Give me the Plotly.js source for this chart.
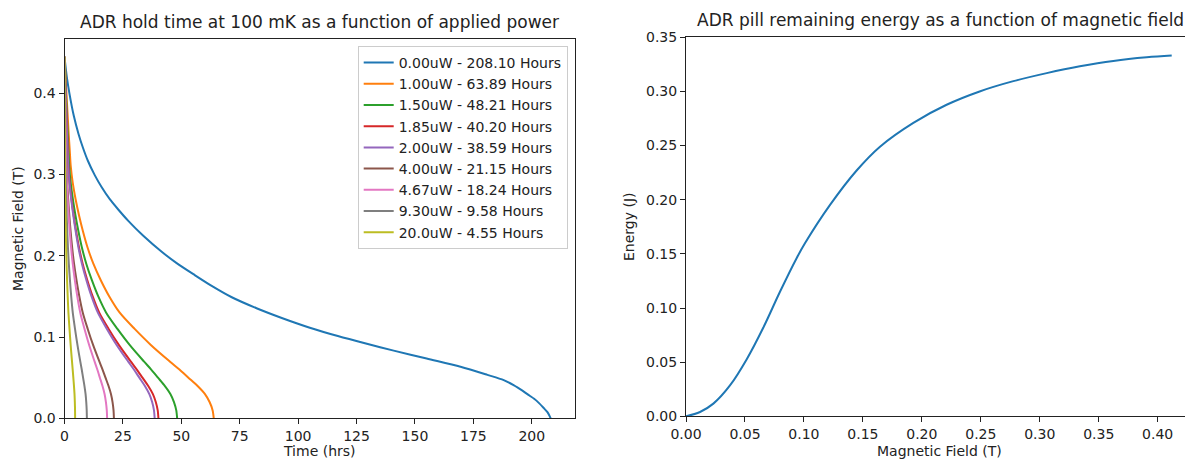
<!DOCTYPE html>
<html>
<head>
<meta charset="utf-8">
<script src="https://cdn.plot.ly/plotly-3.0.1.min.js"></script>
<style>html,body{margin:0;padding:0;background:#fff;}#chart{width:1185px;height:459px;}</style>
</head>
<body>
<div id="chart"></div>
<script>
// ---- Left chart data: magnetic field (T) vs time (hrs) ----
const seriesNames = [
  "0.00uW - 208.10 Hours", "1.00uW - 63.89 Hours", "1.50uW - 48.21 Hours",
  "1.85uW - 40.20 Hours", "2.00uW - 38.59 Hours", "4.00uW - 21.15 Hours",
  "4.67uW - 18.24 Hours", "9.30uW - 9.58 Hours", "20.0uW - 4.55 Hours"
];
const seriesColors = ["#1f77b4","#ff7f0e","#2ca02c","#d62728","#9467bd","#8c564b","#e377c2","#7f7f7f","#bcbd22"];

const t0uW = [0, 1, 2.1, 4, 6, 7.9, 10, 13, 16, 19.3, 23, 27.3, 33.6, 41.6, 48, 55.9, 63, 71.6, 82.2, 93, 105, 117, 129, 140.9, 155, 169.5, 181, 188, 192.4, 196, 199, 201, 203, 205, 206.7, 207.6, 208.1];
const b0uW = [0.445, 0.42, 0.40, 0.372, 0.350, 0.333, 0.317, 0.299, 0.284, 0.270, 0.257, 0.243, 0.225, 0.205, 0.191, 0.176, 0.163, 0.149, 0.1355, 0.1235, 0.1115, 0.1012, 0.0920, 0.0833, 0.0735, 0.0635, 0.0535, 0.047, 0.0406, 0.034, 0.028, 0.024, 0.019, 0.013, 0.0075, 0.003, 0];

// field levels shared by the powered curves
const fieldLevels = [0.445, 0.43, 0.41, 0.39, 0.37, 0.35, 0.33, 0.31, 0.29, 0.27, 0.25, 0.23, 0.21, 0.19, 0.17, 0.15, 0.13, 0.11, 0.09, 0.07, 0.06, 0.05, 0.04, 0.03, 0.02, 0.01, 0];
const t1uW   = [0, 0.26, 0.64, 1.02, 1.41, 1.79, 2.24, 2.68, 3.51, 4.73, 6.20, 7.92, 9.90, 12.39, 15.53, 19.17, 23.64, 30.03, 37.06, 45.04, 49.20, 53.03, 56.86, 60.06, 62.10, 63.38, 63.89];
const t1p5uW = [0, 0.19, 0.48, 0.77, 1.06, 1.35, 1.69, 2.02, 2.65, 3.57, 4.68, 5.98, 7.47, 9.35, 11.72, 14.46, 17.84, 22.66, 27.96, 33.99, 37.12, 40.01, 42.91, 45.32, 46.86, 47.82, 48.21];
const t1p85uW= [0, 0.16, 0.40, 0.64, 0.88, 1.13, 1.41, 1.69, 2.21, 2.97, 3.90, 4.98, 6.23, 7.80, 9.77, 12.06, 14.87, 18.89, 23.32, 28.34, 30.95, 33.37, 35.78, 37.79, 39.07, 39.88, 40.20];
const t2uW   = [0, 0.15, 0.39, 0.62, 0.85, 1.08, 1.35, 1.62, 2.12, 2.86, 3.74, 4.79, 5.98, 7.49, 9.38, 11.58, 14.28, 18.14, 22.38, 27.21, 29.71, 32.03, 34.35, 36.27, 37.51, 38.28, 38.59];
const t4uW   = [0, 0.08, 0.21, 0.34, 0.47, 0.59, 0.74, 0.89, 1.16, 1.57, 2.05, 2.62, 3.28, 4.10, 5.14, 6.35, 7.83, 9.94, 12.27, 14.91, 16.29, 17.55, 18.82, 19.88, 20.56, 20.98, 21.15];
const t4p67uW= [0, 0.07, 0.18, 0.29, 0.40, 0.51, 0.64, 0.77, 1.00, 1.35, 1.77, 2.26, 2.83, 3.54, 4.43, 5.47, 6.75, 8.57, 10.58, 12.86, 14.04, 15.14, 16.23, 17.15, 17.73, 18.09, 18.24];
const t9p3uW = [0, 0.04, 0.10, 0.15, 0.21, 0.27, 0.34, 0.40, 0.53, 0.71, 0.93, 1.19, 1.48, 1.86, 2.33, 2.87, 3.54, 4.50, 5.56, 6.75, 7.38, 7.95, 8.53, 9.01, 9.31, 9.50, 9.58];
const t20uW  = [0, 0.02, 0.05, 0.07, 0.10, 0.13, 0.16, 0.19, 0.25, 0.34, 0.44, 0.56, 0.71, 0.88, 1.11, 1.37, 1.68, 2.14, 2.64, 3.21, 3.50, 3.78, 4.05, 4.28, 4.42, 4.51, 4.55];

// ---- Right chart data: energy (J) vs magnetic field (T) ----
const pillField  = [0, 0.0119, 0.0232, 0.0373, 0.0514, 0.0656, 0.0797, 0.0938, 0.101, 0.122, 0.1447, 0.1645, 0.1928, 0.221, 0.249, 0.2776, 0.3059, 0.334, 0.3624, 0.3907, 0.4119];
const pillEnergy = [0, 0.004, 0.0117, 0.0285, 0.0525, 0.082, 0.115, 0.146, 0.160, 0.195, 0.227, 0.249, 0.271, 0.2877, 0.300, 0.3095, 0.3169, 0.3232, 0.3282, 0.3315, 0.3331];

const W = 1185, H = 459;
const px = v => v / W, py = v => (H - v) / H;

const xs = [t0uW, t1uW, t1p5uW, t1p85uW, t2uW, t4uW, t4p67uW, t9p3uW, t20uW];
const ys = [b0uW, fieldLevels, fieldLevels, fieldLevels, fieldLevels, fieldLevels, fieldLevels, fieldLevels, fieldLevels];

const traces = xs.map((x, i) => ({
  type: 'scatter', mode: 'lines', x: x, y: ys[i], name: seriesNames[i],
  line: {color: seriesColors[i], width: 2, shape: 'spline', smoothing: 0.8},
  xaxis: 'x', yaxis: 'y', showlegend: true
}));
traces.push({
  type: 'scatter', mode: 'lines', x: pillField, y: pillEnergy, name: 'energy',
  line: {color: '#1f77b4', width: 2, shape: 'spline', smoothing: 1},
  xaxis: 'x2', yaxis: 'y2', showlegend: false
});

const font = {family: 'DejaVu Sans', size: 14, color: '#222'};
const titleFont = {family: 'DejaVu Sans', size: 17, color: '#222'};
const axBase = {
  showgrid: false, zeroline: false, showline: true, linecolor: '#222', linewidth: 1,
  ticks: 'outside', ticklen: 5, tickwidth: 1, tickcolor: '#222',
  tickfont: font, fixedrange: true
};

const layout = {
  width: W, height: H,
  margin: {l: 0, r: 0, t: 0, b: 0},
  paper_bgcolor: '#fff', plot_bgcolor: '#fff',
  font: font,
  showlegend: true,
  xaxis: Object.assign({}, axBase, {domain: [px(64.5), px(575)], range: [0, 218.5], tickvals: [0,25,50,75,100,125,150,175,200], mirror: true, anchor: 'y'}),
  yaxis: Object.assign({}, axBase, {domain: [py(418.3), py(39.3)], range: [0, 0.4665], tickvals: [0,0.1,0.2,0.3,0.4], tickformat: '.1f', mirror: true, anchor: 'x'}),
  xaxis2: Object.assign({}, axBase, {domain: [px(686), 1], range: [0, 0.42317], tickvals: [0,0.05,0.1,0.15,0.2,0.25,0.3,0.35,0.4], tickformat: '.2f', mirror: true, anchor: 'y2'}),
  yaxis2: Object.assign({}, axBase, {domain: [py(416.3), py(37.3)], range: [0, 0.35], tickvals: [0,0.05,0.1,0.15,0.2,0.25,0.3,0.35], tickformat: '.2f', mirror: false, anchor: 'x2'}),
  legend: {
    x: px(567.7), xanchor: 'right', y: py(46), yanchor: 'top',
    bgcolor: 'rgba(255,255,255,0.8)', bordercolor: '#cccccc', borderwidth: 1,
    font: {family: 'DejaVu Sans', size: 14, color: '#222'},
    tracegroupgap: 0
  },
  annotations: [
    {text: 'ADR hold time at 100 mK as a function of applied power', xref: 'paper', yref: 'paper', x: px(319.5), y: py(22), xanchor: 'center', yanchor: 'middle', showarrow: false, font: titleFont},
    {text: 'ADR pill remaining energy as a function of magnetic field', xref: 'paper', yref: 'paper', x: px(940), y: py(20), xanchor: 'center', yanchor: 'middle', showarrow: false, font: titleFont},
    {text: 'Time (hrs)', xref: 'paper', yref: 'paper', x: px(319.5), y: py(450.5), xanchor: 'center', yanchor: 'middle', showarrow: false, font: font},
    {text: 'Magnetic Field (T)', xref: 'paper', yref: 'paper', x: px(939), y: py(450.5), xanchor: 'center', yanchor: 'middle', showarrow: false, font: font},
    {text: 'Magnetic Field (T)', xref: 'paper', yref: 'paper', x: px(18), y: py(229), xanchor: 'center', yanchor: 'middle', textangle: -90, showarrow: false, font: font},
    {text: 'Energy (J)', xref: 'paper', yref: 'paper', x: px(629), y: py(227), xanchor: 'center', yanchor: 'middle', textangle: -90, showarrow: false, font: font}
  ]
};

Plotly.newPlot('chart', traces, layout, {staticPlot: true, displayModeBar: false});
</script>
</body>
</html>
